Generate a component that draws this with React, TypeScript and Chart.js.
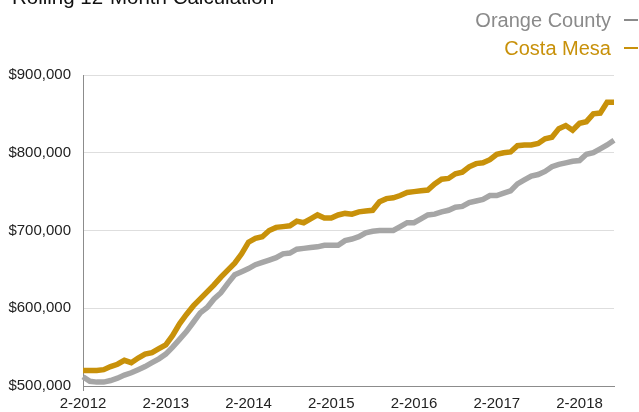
import React, { useEffect, useRef } from "react";
import { Chart, registerables } from "chart.js";

Chart.register(...registerables);

const FONT = "'Liberation Sans', Arial, Helvetica, sans-serif";

// Month categories, Feb 2012 .. Jul 2018
const months: string[] = [];
for (let y = 2012; y <= 2018; y++) {
  for (let m = 1; m <= 12; m++) {
    if (y === 2012 && m < 2) continue;
    if (y === 2018 && m > 7) continue;
    months.push(`${m}-${y}`);
  }
}

const yearTicks = ["2-2012", "2-2013", "2-2014", "2-2015", "2-2016", "2-2017", "2-2018"];

// Values in thousands of dollars (rolling 12-month median)
const orangeCounty = [
  512, 506, 505, 505, 507, 510, 514, 517, 521, 525, 530, 535,
  541, 550, 560, 570, 582, 594, 601, 612, 620, 632, 643, 647,
  651, 656, 659, 662, 665, 670, 671, 676, 677, 678, 679, 681,
  681, 681, 687, 689, 692, 697, 699, 700, 700, 700, 705, 710,
  710, 715, 720, 721, 724, 726, 730, 731, 736, 738, 740, 745,
  745, 748, 751, 760, 765, 770, 772, 776, 782, 785, 787, 789,
  790, 798, 800, 805, 810, 816,
];

const costaMesa = [
  520, 520, 520, 521, 525, 528, 533, 530, 536, 541, 543, 548,
  553, 565, 580, 592, 603, 612, 621, 630, 640, 649, 658, 670,
  685, 690, 692, 700, 704, 705, 706, 712, 710, 715, 720, 716,
  716, 720, 722, 721, 724, 725, 726, 737, 741, 742, 745, 749,
  750, 751, 752, 760, 766, 767, 773, 775, 782, 786, 787, 791,
  798, 800, 801, 809, 810, 810, 812, 818, 820, 831, 835, 829,
  838, 840, 850, 851, 865, 865,
];

const GRAY = "#a6a6a6";
const GOLD = "#c8910a";

export default function App() {
  const ref = useRef<HTMLCanvasElement | null>(null);

  useEffect(() => {
    if (!ref.current) return;
    const last = months.length - 1;
    const chart = new Chart(ref.current, {
      type: "line",
      data: {
        labels: months,
        datasets: [
          {
            label: "Orange County",
            data: orangeCounty.map((v) => v * 1000),
            borderColor: GRAY,
            backgroundColor: GRAY,
            borderWidth: 5.5,
            pointRadius: 0,
            tension: 0,
            fill: false,
          },
          {
            label: "Costa Mesa",
            data: costaMesa.map((v) => v * 1000),
            borderColor: GOLD,
            backgroundColor: GOLD,
            borderWidth: 5.5,
            pointRadius: 0,
            tension: 0,
            fill: false,
          },
        ],
      },
      options: {
        responsive: false,
        animation: false,
        events: [],
        layout: { padding: { top: 75, right: 25, left: 0, bottom: 0 } },
        plugins: {
          legend: { display: false },
          title: { display: false },
          tooltip: { enabled: false },
        },
        scales: {
          x: {
            type: "category",
            offset: false,
            border: { color: "#8c8c8c", width: 1 },
            grid: {
              color: (ctx: any) =>
                ctx.index === last ? "#a8a8a8" : yearTicks.includes(months[ctx.index]) ? "#dedede" : "rgba(0,0,0,0)",
              tickColor: (ctx: any) =>
                yearTicks.includes(months[ctx.index]) ? "#8c8c8c" : "rgba(0,0,0,0)",
              tickLength: 5,
            },
            ticks: {
              autoSkip: false,
              maxRotation: 0,
              minRotation: 0,
              padding: 4,
              color: "#222",
              font: { family: FONT, size: 15 },
              callback: (_v: any, i: number) =>
                yearTicks.includes(months[i]) ? months[i] : i === last ? "" : null,
            },
            afterFit: (s: any) => {
              s.height = 26;
            },
          },
          y: {
            min: 500000,
            max: 900000,
            border: { color: "#8c8c8c", width: 1 },
            grid: { color: "#dedede", drawTicks: false },
            ticks: {
              stepSize: 100000,
              padding: 12,
              color: "#222",
              font: { family: FONT, size: 15 },
              callback: (v: any) => "$" + Number(v).toLocaleString("en-US"),
            },
            afterFit: (s: any) => {
              s.width = 83;
            },
          },
        },
      },
    });
    return () => chart.destroy();
  }, []);

  return (
    <div
      style={{
        position: "fixed",
        left: 0,
        top: 0,
        width: 639,
        height: 412,
        background: "#fff",
        overflow: "hidden",
        fontFamily: FONT,
      }}
    >
      <canvas ref={ref} width={639} height={412} style={{ display: "block" }} />
      <div
        style={{
          position: "absolute",
          left: 12,
          top: -13,
          fontSize: 20.5,
          lineHeight: "20px",
          color: "#111",
          whiteSpace: "nowrap",
        }}
      >
        Rolling 12-Month Calculation
      </div>
      <div
        style={{
          position: "absolute",
          right: 28,
          top: 10,
          fontSize: 20,
          lineHeight: "20px",
          color: "#8a8a8a",
          whiteSpace: "nowrap",
        }}
      >
        Orange County
      </div>
      <div style={{ position: "absolute", left: 624, top: 19, width: 14, height: 2, background: "#8a8a8a" }} />
      <div
        style={{
          position: "absolute",
          right: 28,
          top: 38,
          fontSize: 20,
          lineHeight: "20px",
          color: GOLD,
          whiteSpace: "nowrap",
        }}
      >
        Costa Mesa
      </div>
      <div style={{ position: "absolute", left: 624, top: 47, width: 14, height: 2, background: GOLD }} />
    </div>
  );
}
